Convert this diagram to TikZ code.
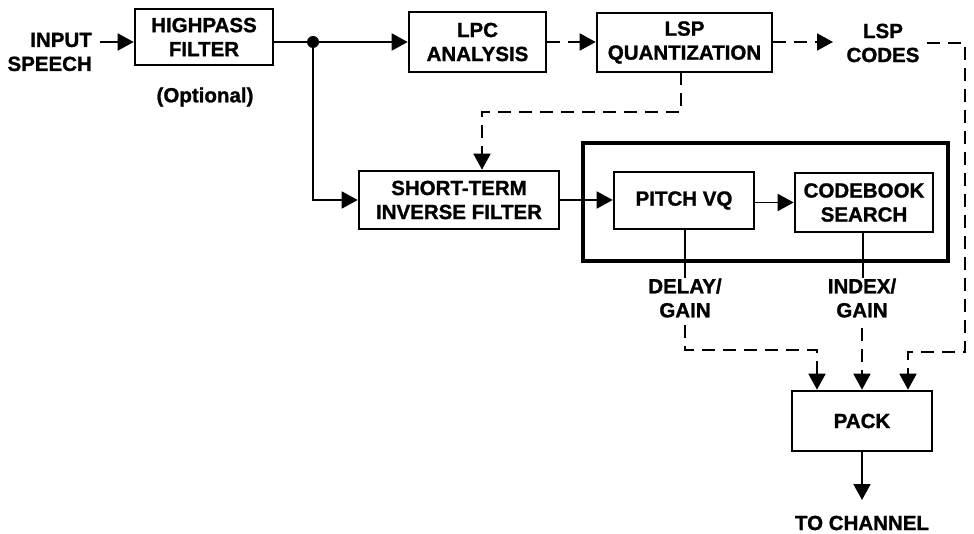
\documentclass[tikz,border=0pt]{standalone}
\usepackage{fontspec}
\setmainfont{Liberation Sans}[BoldFeatures={FakeBold=1.2}]
\usetikzlibrary{arrows.meta}
\begin{document}
\begin{tikzpicture}[x=1pt,y=-1pt,
  every node/.style={font=\fontsize{20.5}{24}\selectfont\bfseries, align=center, inner sep=0pt},
  blk/.style={draw, line width=2.6pt, rectangle},
  lbl/.style={},
  conn/.style={line width=1.8pt, -{Triangle[length=16pt,width=17pt]}},
  plain/.style={line width=1.8pt},
  dconn/.style={conn, dash pattern=on 13pt off 8pt},
  dplain/.style={plain, dash pattern=on 13pt off 8pt}]
\useasboundingbox (0,0) rectangle (974,534);

% blocks
\node[blk, minimum width=138pt, minimum height=56pt] (hp) at (204,37) {HIGHPASS\\FILTER};
\node[blk, minimum width=137pt, minimum height=60pt] (lpc) at (477.5,42) {LPC\\ANALYSIS};
\node[blk, minimum width=175pt, minimum height=59pt] (lsp) at (684.5,42.5) {LSP\\QUANTIZATION};
\node[blk, minimum width=200pt, minimum height=58pt] (st) at (459,200) {SHORT-TERM\\INVERSE FILTER};
\node[draw, line width=4.5pt, minimum width=365pt, minimum height=118pt] (outer) at (765.5,202) {};
\node[blk, minimum width=140pt, minimum height=57pt] (pvq) at (684,200.5) {PITCH VQ};
\node[blk, minimum width=138pt, minimum height=59pt] (cb) at (864,202.5) {CODEBOOK\\SEARCH};
\node[blk, minimum width=140pt, minimum height=60pt] (pack) at (862,421) {PACK};

% labels
\node[lbl, anchor=east, align=right] (inp) at (92,52) {INPUT\\SPEECH};
\node[lbl] (opt) at (205,97) {(Optional)};
\node[lbl] (codes) at (883,43) {LSP\\CODES};
\node[lbl] (delay) at (685,298) {DELAY/\\GAIN};
\node[lbl] (index) at (862,298) {INDEX/\\GAIN};
\node[lbl] (chan) at (862,523) {TO CHANNEL};

% coordinates
\coordinate (cin) at (100,42);
\coordinate (dot) at (313,42);
\coordinate (dn) at (313,200);
\coordinate (q1) at (681,72.5);
\coordinate (q2) at (681,112);
\coordinate (q3) at (482,112);
\coordinate (lspout) at (833,42);
\coordinate (c1) at (927,43);
\coordinate (c2) at (965,43);
\coordinate (c3) at (965,352);
\coordinate (c4) at (908,352);
\coordinate (d0) at (685,229);
\coordinate (d1) at (685,278);
\coordinate (d2) at (685,325);
\coordinate (d3) at (685,350);
\coordinate (d4) at (817,350);
\coordinate (i0) at (863,232);
\coordinate (i1) at (863,278);
\coordinate (i2) at (862,328);
\coordinate (out) at (862,500);

% connectors
\draw[conn] (cin) -- (cin -| hp.west);
\draw[plain] (hp.east |- dot) -- (dot);
\draw[conn] (dot) -- (dot -| lpc.west);
\fill (dot) circle (6pt);
\draw[conn] (dot) -- (dn) -- (st.west);
\draw[dconn] (lpc.east) -- (lpc.east -| lsp.west);
\draw[dconn] (lsp.east |- lspout) -- (lspout);
\draw[dconn] (q1) -- (q2) -- (q3) -- (q3 |- st.north);
\draw[conn] (st.east) -- (st.east -| pvq.west);
\draw[conn] (pvq.east |- cb.west) -- (cb.west);
\draw[plain] (d0) -- (d1);
\draw[plain] (i0) -- (i1);
\draw[dconn] (d2) -- (d3) -- (d4) -- (d4 |- pack.north);
\draw[dconn] (i2) -- (i2 |- pack.north);
\draw[dconn] (c1) -- (c2) -- (c3) -- (c4) -- (c4 |- pack.north);
\draw[conn] (pack.south) -- (out);
\end{tikzpicture}
\end{document}
